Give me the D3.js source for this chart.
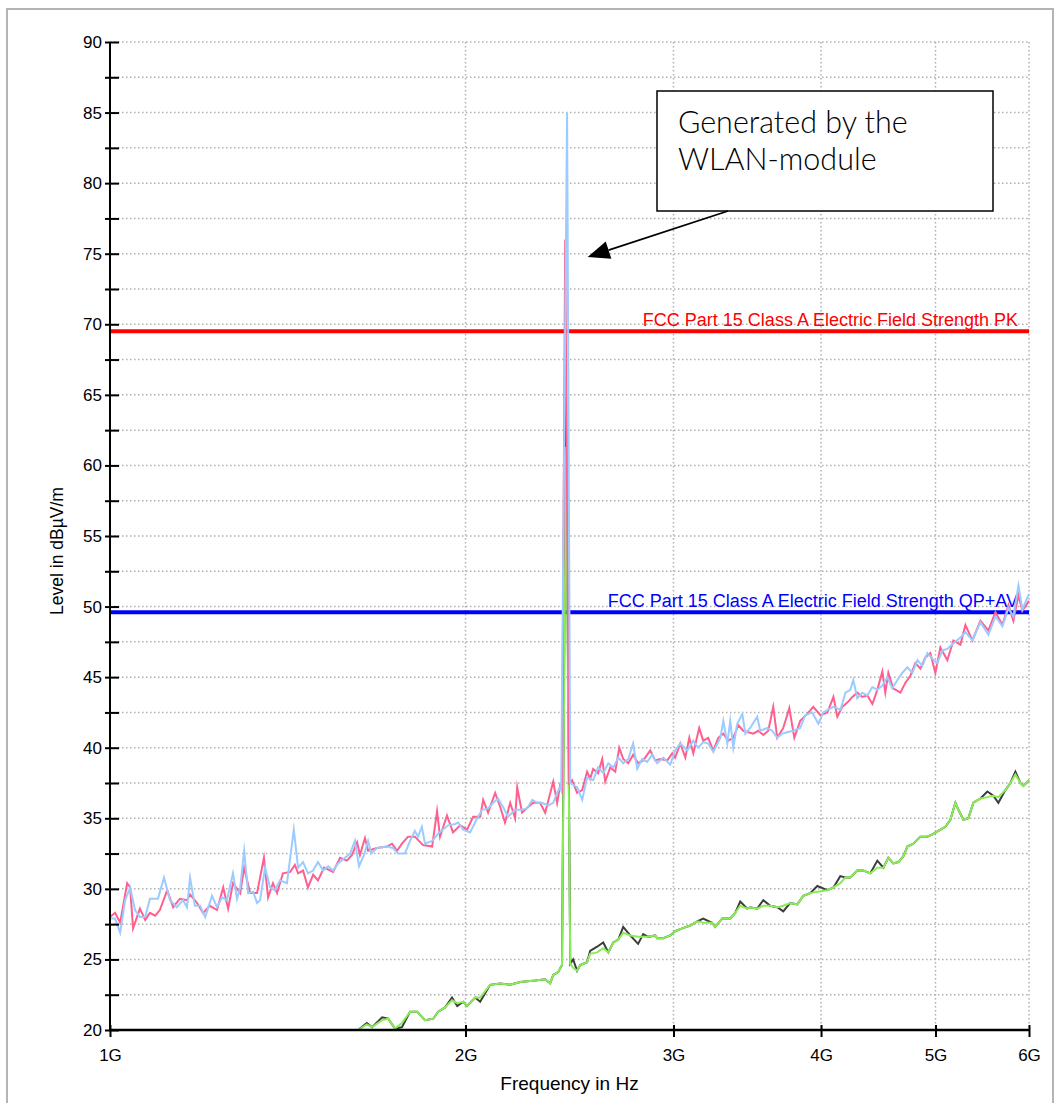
<!DOCTYPE html>
<html><head><meta charset="utf-8">
<script src="https://cdn.jsdelivr.net/npm/d3@7"></script>
<style>
html,body{margin:0;padding:0;background:#fff;}
svg{display:block;font-family:"Liberation Sans",Arial,sans-serif;}
</style></head>
<body>
<svg id="chart" width="1056" height="1103"></svg>
<script>
// ---------- DATA ----------
const xTickValues = [1000, 2000, 3000, 4000, 5000, 6000]; // MHz
const xTickLabels = ["1G", "2G", "3G", "4G", "5G", "6G"];
const yMajorTicks = [20, 25, 30, 35, 40, 45, 50, 55, 60, 65, 70, 75, 80, 85, 90];
const yMinorTicks = [22.5, 27.5, 32.5, 37.5, 42.5, 47.5, 52.5, 57.5, 62.5, 67.5, 72.5, 77.5, 82.5, 87.5];

const limitNames = ["FCC Part 15 Class A Electric Field Strength PK", "FCC Part 15 Class A Electric Field Strength QP+AV"];
const limitLevels = [69.5, 49.6];
const limitColors = ["#ff0000", "#0000ff"];

// Peak trace (pink), MHz / dBµV/m
const pinkFreq = [1000,1010,1020,1034,1040,1046,1060,1071,1081,1092,1102,1118,1131,1146,1162,1169,1185,1199,1215,1232,1247,1259,1271,1289,1299,1314,1332,1350,1361,1374,1385,1401,1421,1434,1443,1457,1471,1486,1500,1518,1545,1566,1587,1603,1619,1628,1644,1654,1683,1716,1733,1750,1767,1788,1812,1841,1874,1892,1903,1929,1952,1979,2006,2030,2058,2070,2090,2119,2140,2160,2182,2203,2212,2233,2260,2282,2313,2336,2373,2391,2405,2414,2429,2448,2462,2486,2511,2535,2550,2565,2590,2611,2626,2652,2678,2699,2720,2747,2773,2800,2828,2867,2895,2923,2964,2993,3010,3040,3070,3094,3118,3154,3179,3210,3242,3274,3306,3338,3371,3404,3437,3471,3505,3539,3574,3609,3644,3673,3716,3760,3797,3841,3894,3940,3995,4050,4098,4129,4170,4210,4252,4293,4335,4378,4421,4464,4508,4534,4561,4605,4669,4715,4761,4808,4855,4902,4950,4999,5048,5117,5178,5249,5300,5373,5458,5543,5620,5697,5764,5820,5878,5923,6000];
const pinkLevel = [28.0,28.3,27.6,30.4,30.1,27.2,28.6,27.8,28.3,28.1,28.5,29.9,28.7,29.3,29.2,29.6,29.0,28.3,28.8,28.5,30.1,28.6,30.4,29.7,31.5,29.7,29.7,32.2,29.4,30.4,29.7,31.1,31.2,31.7,31.1,31.3,30.1,31.0,30.6,31.5,31.2,32.2,32.0,32.4,33.3,32.4,33.6,32.7,32.9,33.0,33.2,32.7,33.2,33.7,33.7,33.1,33.0,35.5,33.7,35.2,34.0,34.5,34.2,35.1,35.1,36.3,35.4,36.8,35.8,34.7,36.1,35.0,37.2,35.4,35.8,36.1,36.1,35.4,37.6,36.1,37.3,37.0,76.0,37.5,37.7,36.8,37.0,38.3,37.8,38.5,38.2,39.2,37.6,38.6,38.3,40.0,39.2,38.9,39.5,38.9,39.1,39.8,39.1,39.2,39.1,39.6,39.3,40.3,39.3,40.7,39.6,41.4,40.5,40.7,39.8,40.7,41.0,40.5,40.7,41.6,41.2,41.1,41.0,41.2,40.9,41.2,42.9,40.7,41.4,42.8,40.7,41.9,42.4,42.9,42.3,42.5,43.6,42.2,42.9,43.2,43.6,43.9,43.6,43.7,43.1,44.1,45.4,43.9,45.3,44.2,43.9,44.6,45.1,46.0,45.6,46.4,46.7,45.3,47.1,46.2,47.6,47.3,48.7,47.6,49.0,48.3,49.6,48.7,50.1,49.0,50.8,49.7,50.4];

// Second peak trace (light blue)
const blueFreq = [1000,1010,1020,1030,1040,1050,1060,1071,1081,1098,1111,1124,1139,1153,1162,1169,1180,1192,1204,1220,1232,1244,1256,1271,1281,1289,1299,1309,1322,1332,1340,1353,1366,1379,1393,1412,1431,1443,1457,1471,1486,1500,1515,1530,1545,1560,1581,1597,1612,1625,1641,1654,1664,1683,1716,1736,1753,1777,1795,1812,1823,1837,1848,1874,1896,1914,1933,1960,1971,1991,2018,2046,2066,2090,2111,2131,2152,2173,2203,2233,2255,2278,2300,2322,2350,2373,2391,2405,2410,2438,2453,2486,2511,2535,2565,2590,2616,2642,2668,2694,2720,2747,2773,2795,2822,2850,2878,2906,2941,2981,3010,3040,3082,3118,3148,3179,3210,3242,3287,3306,3332,3351,3371,3397,3431,3451,3484,3532,3553,3602,3637,3673,3709,3745,3789,3841,3879,3932,3979,4018,4057,4098,4155,4195,4235,4260,4293,4335,4378,4421,4464,4508,4552,4596,4642,4687,4733,4780,4827,4874,4921,4970,5018,5068,5117,5178,5249,5300,5373,5458,5543,5620,5697,5764,5820,5878,5923,6000];
const blueLevel = [27.9,27.9,26.9,29.2,30.1,28.5,28.0,28.0,29.3,29.3,30.8,29.2,28.7,29.2,28.7,30.8,28.8,28.8,28.0,29.5,28.7,29.4,29.2,31.1,29.3,30.1,32.7,29.7,29.8,29.0,29.2,31.5,30.1,29.9,30.6,30.4,34.2,31.5,31.9,31.1,31.3,31.9,31.3,31.6,31.3,31.8,32.2,32.5,33.4,31.6,32.4,33.4,32.5,32.9,33.0,32.9,32.5,32.5,33.4,34.1,33.7,34.4,33.2,33.4,33.9,34.2,34.5,34.6,34.7,34.2,34.0,35.0,35.6,35.7,36.1,36.4,35.8,35.1,35.6,35.6,35.7,36.3,36.1,36.1,35.9,36.1,36.8,37.2,37.0,85.0,37.5,37.2,36.3,37.9,37.7,38.6,38.2,38.9,38.6,39.3,38.9,39.2,40.3,38.5,39.2,39.0,39.5,38.9,39.3,38.8,39.8,40.3,39.8,40.5,40.0,40.4,40.3,39.7,40.7,41.9,40.3,41.9,40.0,41.7,42.4,41.0,41.4,42.2,41.2,41.4,41.2,40.7,41.0,41.1,41.2,41.4,42.3,42.5,41.7,42.5,42.7,42.9,42.7,43.9,44.1,44.8,43.5,43.9,43.7,44.3,44.1,44.4,45.0,44.2,44.8,45.3,45.7,45.3,46.2,45.8,46.7,46.3,46.0,46.9,47.0,47.4,47.8,48.2,47.6,48.9,48.0,49.3,48.6,49.9,49.3,51.5,49.8,50.9];

// Average traces (green on top of dark grey)
const avgFreq = [1622,1650,1667,1700,1720,1743,1767,1795,1820,1848,1878,1896,1922,1948,1968,1991,2006,2038,2058,2098,2140,2182,2225,2291,2336,2359,2373,2396,2414,2433,2453,2467,2486,2501,2535,2550,2585,2616,2642,2668,2694,2720,2757,2800,2828,2855,2895,2906,2941,2981,3010,3052,3100,3142,3179,3235,3254,3299,3351,3384,3417,3464,3484,3532,3574,3623,3673,3716,3767,3819,3864,3917,3971,4050,4098,4153,4194,4235,4293,4344,4404,4464,4517,4561,4605,4651,4696,4733,4789,4855,4921,4980,5048,5098,5147,5198,5228,5280,5331,5383,5458,5532,5597,5652,5730,5786,5843,5900,5935,6000];
const greenLevel = [20.0,20.4,20.2,20.7,20.8,20.1,20.5,21.3,21.3,20.7,20.8,21.3,21.6,22.1,21.9,22.0,21.7,22.3,22.3,23.2,23.3,23.2,23.4,23.5,23.6,23.3,23.9,24.1,24.6,61.3,24.7,24.4,24.2,24.6,24.8,25.4,25.5,25.8,25.5,26.2,26.4,26.9,26.7,26.6,26.6,26.6,26.7,26.5,26.5,26.7,27.0,27.2,27.4,27.7,27.6,27.6,27.3,27.9,27.9,28.3,28.8,28.6,28.7,28.6,28.8,28.8,28.7,28.8,29.0,28.9,29.5,29.7,29.8,29.9,30.1,30.4,30.8,30.8,31.3,31.3,31.1,31.5,31.5,32.2,31.8,31.9,32.3,33.0,33.2,33.7,33.7,33.9,34.2,34.4,34.9,36.1,35.6,34.9,35.0,36.1,36.4,36.5,36.6,36.5,37.0,37.5,38.1,37.5,37.3,37.7];
const grayLevel  = [20.0,20.5,20.2,20.9,20.8,20.1,20.2,21.3,21.3,20.7,20.8,21.3,21.6,22.3,21.7,22.0,21.7,22.3,22.0,23.2,23.3,23.2,23.4,23.5,23.6,23.3,23.9,24.1,24.6,65.0,24.7,25.0,24.2,24.6,24.8,25.6,25.9,26.2,25.5,26.2,26.4,27.3,26.7,26.1,26.8,26.6,26.7,26.5,26.5,26.7,27.0,27.2,27.4,27.7,27.9,27.6,27.3,27.9,27.9,28.3,29.1,28.6,28.7,28.6,29.2,28.8,28.7,28.4,29.0,28.9,29.5,29.7,30.2,29.9,30.1,30.9,30.8,30.8,31.3,31.3,31.1,32.0,31.5,32.2,31.8,31.9,32.3,33.0,33.2,33.7,33.7,33.9,34.2,34.4,34.9,36.1,35.6,34.9,35.0,36.1,36.4,36.9,36.6,36.1,37.0,37.5,38.3,37.5,37.3,37.7];

const annotationLines = ["Generated by the", "WLAN-module"];
const annotationTarget = [2455, 75.8]; // MHz, dBµV/m (arrow tip)

// ---------- LAYOUT ----------
const svg = d3.select("#chart");
const L = 110, T = 42, R = 1029, B = 1030;

svg.append("rect").attr("x", 7).attr("y", 9).attr("width", 1046).attr("height", 1110)
  .attr("fill", "none").attr("stroke", "#b4b4b4").attr("stroke-width", 2);

const x = d3.scaleLog().domain([1000, 6000]).range([L, R]);
const y = d3.scaleLinear().domain([20, 90]).range([B, T]);

// grid
const grid = svg.append("g").attr("stroke", "#b0b0b0").attr("stroke-width", 1.5).attr("stroke-dasharray", "1.5,2.5");
grid.selectAll("line.h").data(yMajorTicks.concat(yMinorTicks).filter(d => d > 20)).join("line")
  .attr("x1", L).attr("x2", R).attr("y1", d => y(d)).attr("y2", d => y(d));
grid.selectAll("line.v").data(xTickValues.slice(1)).join("line")
  .attr("x1", d => x(d)).attr("x2", d => x(d)).attr("y1", T).attr("y2", B);

// limit lines
const lim = svg.append("g");
limitLevels.forEach((lv, i) => {
  lim.append("line").attr("x1", L).attr("x2", R).attr("y1", y(lv)).attr("y2", y(lv))
    .attr("stroke", limitColors[i]).attr("stroke-width", 4);
  lim.append("text").attr("x", 1018).attr("y", y(lv) - 5).attr("text-anchor", "end")
    .attr("fill", limitColors[i]).attr("font-size", 18).text(limitNames[i]);
});

// traces
const line = d3.line().x(d => x(d[0])).y(d => y(d[1]));
const zip = (a, b) => a.map((f, i) => [f, b[i]]);
const traces = [
  [avgFreq, grayLevel, "#3c3c3c"],
  [avgFreq, greenLevel, "#88ee55"],
  [pinkFreq, pinkLevel, "#ff5f8e"],
  [blueFreq, blueLevel, "#9ccbff"]
];
traces.forEach(([f, v, c]) => {
  svg.append("path").datum(zip(f, v)).attr("d", line).attr("fill", "none")
    .attr("stroke", c).attr("stroke-width", 2).attr("stroke-linejoin", "miter").attr("stroke-miterlimit", 20);
});

// axes
const yAxis = d3.axisLeft(y).tickValues(yMajorTicks.concat(yMinorTicks).sort((a, b) => a - b))
  .tickFormat(d => (d % 5 === 0 ? d : "")).tickSize(5).tickPadding(3);
const gy = svg.append("g").attr("transform", `translate(${L},0)`).call(yAxis);
gy.select(".domain").remove();
gy.selectAll(".tick line").attr("x1", 9).attr("x2", -5).attr("stroke", "#000").attr("stroke-width", 2);
gy.selectAll(".tick text").attr("font-size", 17).attr("fill", "#000").attr("font-family", "Liberation Sans, Arial, sans-serif");
svg.append("line").attr("x1", L).attr("x2", L).attr("y1", T).attr("y2", B + 1).attr("stroke", "#000").attr("stroke-width", 2);

const xAxis = d3.axisBottom(x).tickValues(xTickValues).tickFormat((d, i) => xTickLabels[i]).tickSize(7).tickPadding(12);
const gx = svg.append("g").attr("transform", `translate(0,${B})`).call(xAxis);
gx.select(".domain").remove();
gx.selectAll(".tick line").attr("y1", -5).attr("y2", 7).attr("stroke", "#000").attr("stroke-width", 2);
gx.selectAll(".tick text").attr("font-size", 17).attr("fill", "#000").attr("font-family", "Liberation Sans, Arial, sans-serif");
svg.append("line").attr("x1", L - 1).attr("x2", R + 1).attr("y1", B).attr("y2", B).attr("stroke", "#000").attr("stroke-width", 2.5);

// axis titles
svg.append("text").attr("x", (L + R) / 2).attr("y", 1090).attr("text-anchor", "middle")
  .attr("font-size", 19).text("Frequency in Hz");
svg.append("text").attr("transform", `translate(63,${(T + B) / 2 + 15}) rotate(-90)`).attr("text-anchor", "middle")
  .attr("font-size", 17.5).text("Level in dBµV/m");

// annotation box and arrow
const ann = svg.append("g");
ann.append("rect").attr("x", 657).attr("y", 91).attr("width", 336).attr("height", 120)
  .attr("fill", "#fff").attr("stroke", "#000").attr("stroke-width", 1.5);
annotationLines.forEach((t, i) => {
  ann.append("text").attr("x", 678).attr("y", 133 + i * 37).attr("font-family", "Lato, 'Open Sans', sans-serif")
    .attr("font-weight", 300).attr("font-size", 30.5).attr("fill", "#000").text(t);
});
const tipX = x(annotationTarget[0]) + 17, tipY = 257;
const sx = 728, sy = 211;
const ang = Math.atan2(sy - tipY, sx - tipX);
const hl = 22, hw = 9;
const bx = tipX + hl * Math.cos(ang), by = tipY + hl * Math.sin(ang);
ann.append("line").attr("x1", sx).attr("y1", sy).attr("x2", bx).attr("y2", by).attr("stroke", "#000").attr("stroke-width", 1.8);
ann.append("path").attr("d", `M${tipX},${tipY} L${bx - hw * Math.sin(ang)},${by + hw * Math.cos(ang)} L${bx + hw * Math.sin(ang)},${by - hw * Math.cos(ang)} Z`)
  .attr("fill", "#000");
</script>
</body></html>
